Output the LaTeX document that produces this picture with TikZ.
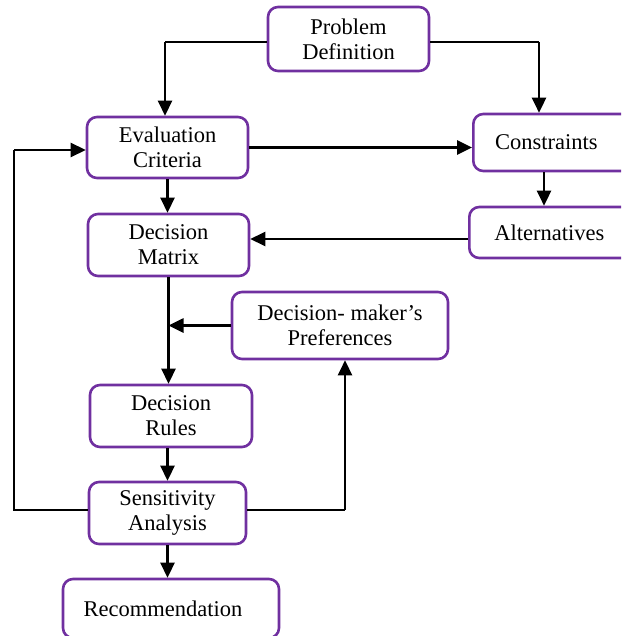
\documentclass[tikz,border=0pt]{standalone}
\usepackage{fontspec}
\setmainfont{Liberation Serif}
\usetikzlibrary{arrows.meta}
\definecolor{boxpurple}{HTML}{7030A0}
\begin{document}
\begin{tikzpicture}[x=1pt,y=-1pt,
  box/.style={draw=boxpurple, line width=2.6pt, rounded corners=10pt, align=center,
    inner sep=0pt, font=\fontsize{22.5}{25}\selectfont},
  link/.style={line width=2.6pt, -{Triangle[length=15pt,width=14pt]}},
  thinlink/.style={line width=1.3pt},
]
\useasboundingbox (0,0) rectangle (621,636);
\clip (0,0) rectangle (621,636);

% process steps
\node[box, minimum width=161, minimum height=64] (pd) at (348.5,39) {Problem\\Definition};
\node[box, minimum width=161, minimum height=61] (ec) at (167.5,147.5) {Evaluation\\Criteria};
\node[box, minimum width=161, minimum height=62] (dm) at (168.5,245) {Decision\\Matrix};
\node[box, minimum width=163, minimum height=57, anchor=west] (con) at (472,142.5) {Constraints\hspace*{17pt}};
\node[box, minimum width=167, minimum height=51, anchor=west] (alt) at (468,232.5) {Alternatives\hspace*{7pt}};
\node[box, minimum width=216, minimum height=67] (dmp) at (340,325.5) {Decision- maker’s\\Preferences};
\node[box, minimum width=162, minimum height=62] (dr) at (171,416) {Decision\\Rules};
\node[box, minimum width=157, minimum height=62] (sa) at (167.5,513) {Sensitivity\\Analysis};
\node[box, minimum width=216, minimum height=59] (rec) at (171,608.5) {Recommendation\hspace*{16pt}};

% bend points of the elbow connectors
\coordinate (pdl) at (165,42);
\coordinate (pdr) at (539,42);
\coordinate (fb) at (14,150);
\coordinate (sar) at (345,510);

% problem definition feeds criteria and constraints
\draw[thinlink] ([yshift=-3pt]pd.west) -- (pdl);
\draw[link] (pdl) -- (pdl |- ec.north);
\draw[thinlink] ([yshift=-3pt]pd.east) -- (pdr);
\draw[link] (pdr) -- (pdr |- con.north);

% criteria and constraints
\draw[link] (ec.east) -- (ec.east -| con.west);
\draw[link] (ec.south) -- (ec.south |- dm.north);
\draw[link] ([xshift=72pt]con.south west) -- ([xshift=72pt]con.south west |- alt.north);
\draw[link] ([yshift=-6.5pt]alt.west) -- ([yshift=-6.5pt]alt.west -| dm.east);

% matrix, preferences and rules
\draw[link] (dm.south) -- (dm.south |- dr.north);
\draw[link] (dmp.west) -- (dmp.west -| dm.south);
\draw[link] (sa.north |- dr.south) -- (sa.north);
\draw[link] (sa.south) -- (sa.south |- rec.north);

% feedback loops from the sensitivity analysis
\draw[thinlink] ([yshift=3pt]sa.west) -| (fb);
\draw[link] (fb) -- (fb -| ec.west);
\draw[thinlink] ([yshift=3pt]sa.east) -- (sar);
\draw[link] (sar) -- (sar |- dmp.south);
\end{tikzpicture}
\end{document}
